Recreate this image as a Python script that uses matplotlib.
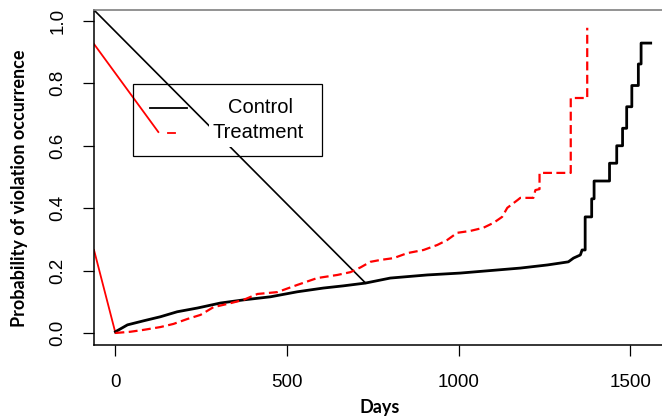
import matplotlib
matplotlib.use('Agg')
import matplotlib.pyplot as plt
from matplotlib.patches import Rectangle

# Kaplan-Meier style cumulative probability
ctrl_days = [0, 35, 82, 131, 180, 239, 306, 373, 452, 530, 606, 664, 729, 801, 909,
             1005, 1180, 1259, 1296, 1320, 1335, 1355, 1360, 1369, 1369, 1388, 1388,
             1395, 1395, 1440, 1440, 1461, 1461, 1478, 1478, 1490, 1490, 1505, 1505,
             1524, 1524, 1532, 1532, 1560]
ctrl_prob = [0.004, 0.026, 0.039, 0.052, 0.068, 0.080, 0.096, 0.106, 0.116, 0.132, 0.144,
             0.151, 0.160, 0.176, 0.186, 0.192, 0.208, 0.218, 0.224, 0.228, 0.240, 0.250,
             0.266, 0.266, 0.372, 0.372, 0.430, 0.430, 0.487, 0.487, 0.544, 0.544, 0.600,
             0.600, 0.656, 0.656, 0.725, 0.725, 0.793, 0.793, 0.862, 0.862, 0.929, 0.929]

trt_days = [0, 44, 82, 131, 169, 210, 248, 286, 326, 373, 414, 472, 530, 588, 647, 685,
            714, 743, 772, 811, 851, 898, 938, 967, 996, 1034, 1072, 1102, 1127, 1142,
            1172, 1180, 1218, 1224, 1236, 1236, 1327, 1327, 1375, 1375]
trt_prob = [0.0, 0.004, 0.010, 0.019, 0.029, 0.045, 0.058, 0.083, 0.093, 0.106, 0.125,
            0.131, 0.154, 0.176, 0.186, 0.195, 0.210, 0.228, 0.234, 0.240, 0.256, 0.266,
            0.282, 0.298, 0.321, 0.327, 0.337, 0.353, 0.372, 0.401, 0.426, 0.433, 0.433,
            0.458, 0.461, 0.513, 0.513, 0.753, 0.753, 0.978]

# stray segments from the original export
stray_black_x = [-62.5, 729]
stray_black_y = [1.035, 0.160]
stray_red1_x = [-62.5, 125]
stray_red1_y = [0.926, 0.644]
stray_red2_x = [-62.5, 0]
stray_red2_y = [0.266, 0.0]

x_ticks = [0, 500, 1000, 1500]
y_ticks = [0.0, 0.2, 0.4, 0.6, 0.8, 1.0]
legend_labels = ["Control", "Treatment"]

fig = plt.figure(figsize=(6.62, 4.19), dpi=100)
ax = fig.add_axes([94 / 662, 74 / 419, 579 / 662, 335 / 419])

ax.plot(ctrl_days, ctrl_prob, color="black", lw=2.0, zorder=3)
ax.plot(trt_days, trt_prob, color="red", lw=1.6, dashes=(4, 2), zorder=3)

ax.plot(stray_black_x, stray_black_y, color="black", lw=1.2, zorder=2)
ax.plot(stray_red1_x, stray_red1_y, color="red", lw=1.3, zorder=2)
ax.plot(stray_red2_x, stray_red2_y, color="red", lw=1.3, zorder=2)

# legend drawn by hand like the original
ax.add_patch(Rectangle((50, 0.567), 553, 0.231, fill=False, edgecolor="black", lw=0.9, zorder=4))
ax.plot([102, 210], [0.721, 0.721], color="black", lw=1.3, zorder=5)
ax.plot([152, 175], [0.641, 0.641], color="red", lw=1.3, zorder=5)
ax.text(423, 0.721, legend_labels[0], ha="center", va="center", fontsize=14.5,
        family="Liberation Sans", zorder=6)
ax.text(417, 0.641, legend_labels[1], ha="center", va="center", fontsize=14.5,
        family="Liberation Sans", zorder=6,
        bbox=dict(facecolor="white", edgecolor="none", pad=3))

ax.set_xlim(-62.5, 1625)
ax.set_ylim(-0.0385, 1.035)
ax.set_xticks(x_ticks)
ax.set_xticklabels([str(t) for t in x_ticks], family="Liberation Sans", fontsize=13.5)
ax.set_yticks(y_ticks)
ax.set_yticklabels([f"{t:.1f}" for t in y_ticks], family="Liberation Sans", fontsize=13.5,
                   rotation=90, va="center")
ax.tick_params(axis="x", length=8, width=0.9, pad=13)
ax.tick_params(axis="y", length=8, width=0.9, pad=12)

ax.spines["top"].set_color("#808080")
ax.spines["top"].set_linewidth(1.2)
for s in ["left", "bottom"]:
    ax.spines[s].set_linewidth(1.1)

ax.set_xlabel("Days", family="Lato", fontweight="bold", fontsize=13, va="center")
ax.set_ylabel("Probability of violation occurrence", family="Lato", fontweight="bold",
              fontsize=13, va="center")
ax.xaxis.set_label_coords((380 - 94) / 579, -(407 - 345) / 335)
ax.yaxis.set_label_coords(-(94 - 19) / 579, (345 - 188) / 335)

fig.savefig("out.png", dpi=100)
